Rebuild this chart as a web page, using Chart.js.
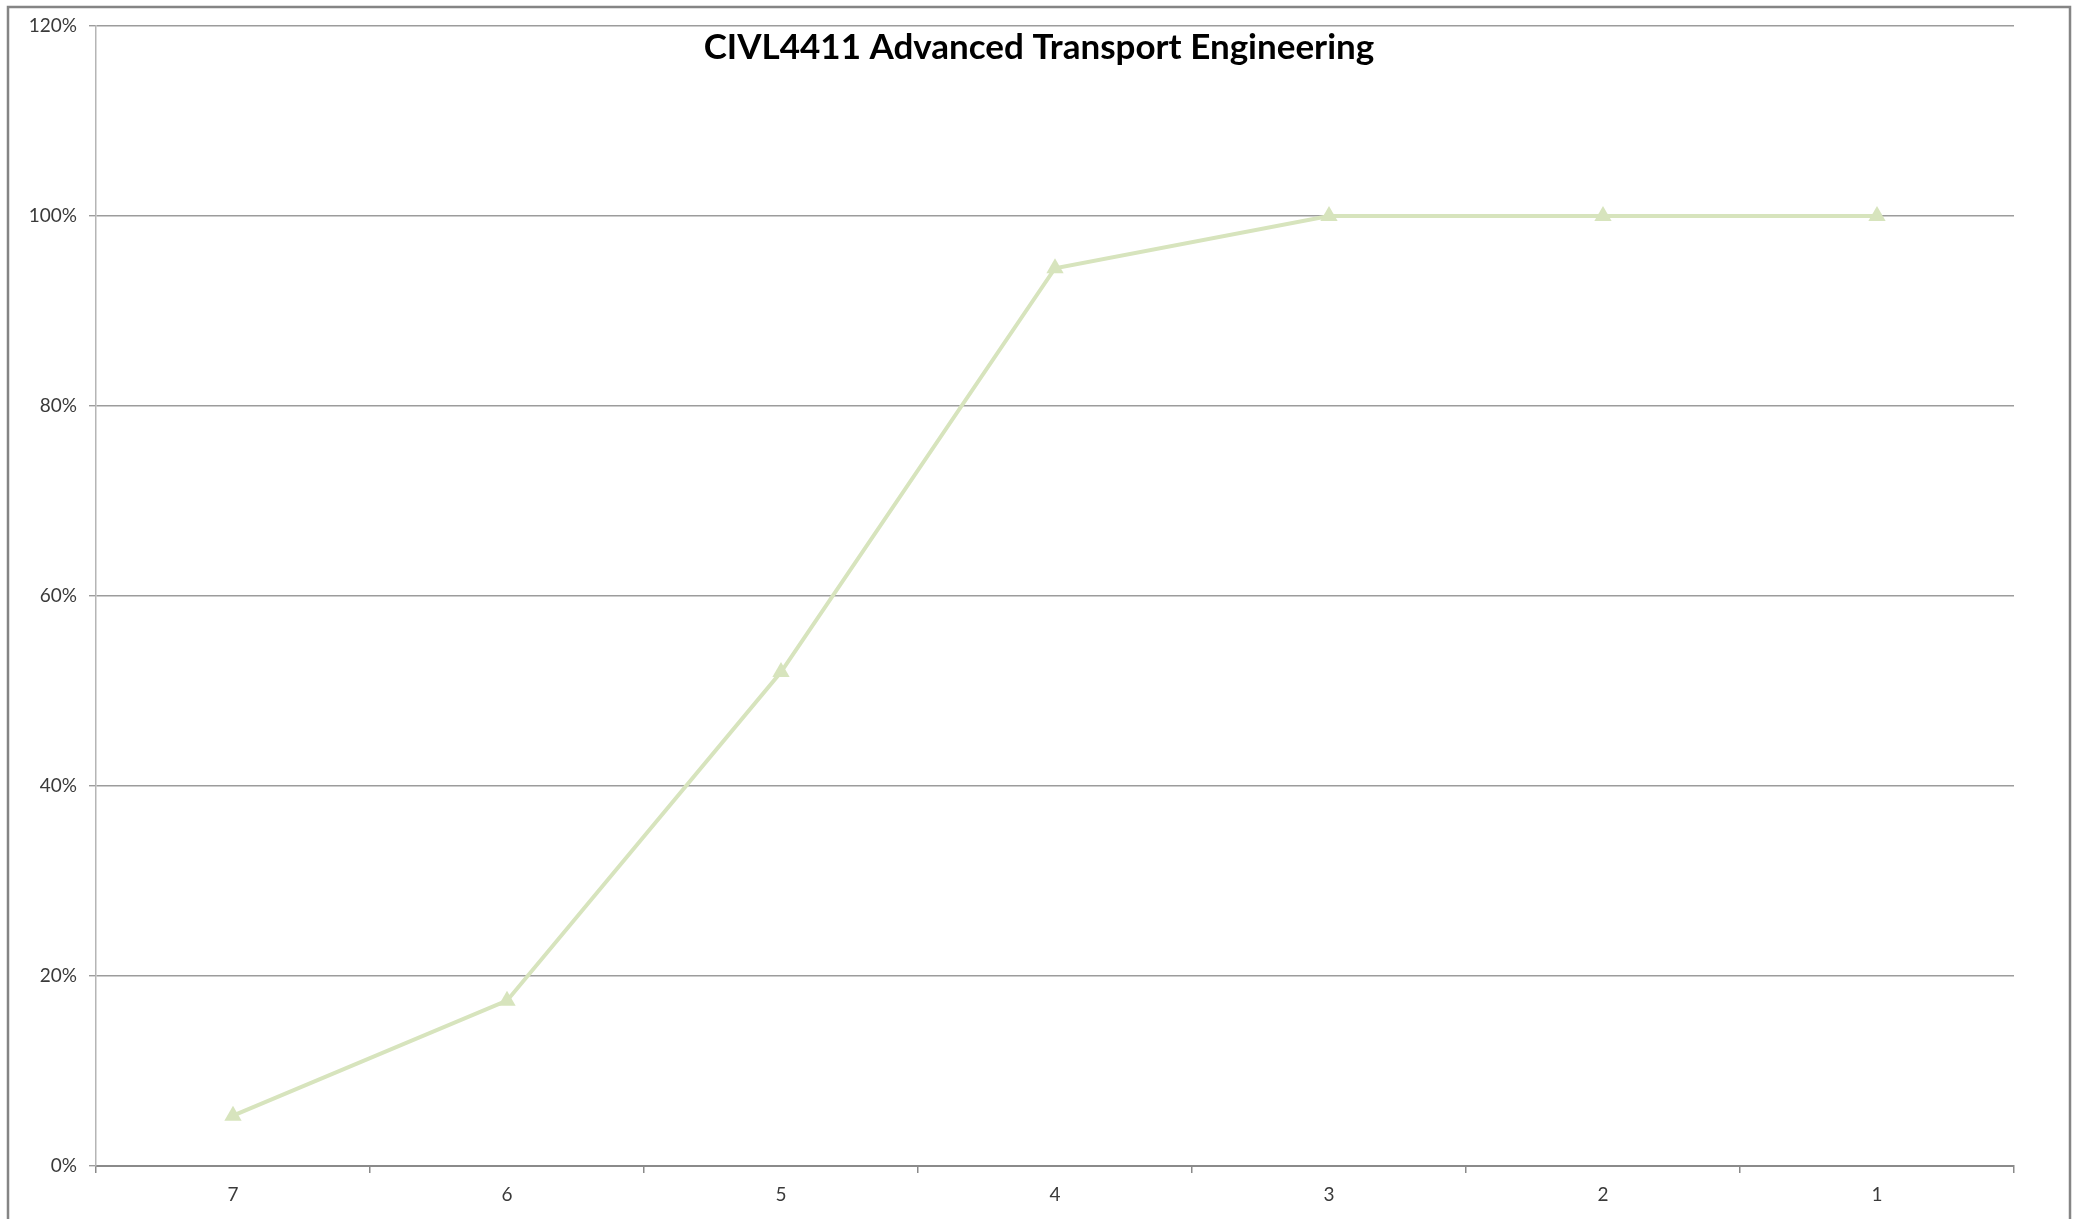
<!DOCTYPE html>
<html>
<head>
<meta charset="utf-8">
<script src="https://cdn.jsdelivr.net/npm/chart.js@4/dist/chart.umd.min.js"></script>
<style>
  html, body { margin: 0; padding: 0; background: #fff; }
  #wrap { width: 2078px; height: 1219px; }
</style>
</head>
<body>
<div id="wrap"><canvas id="chart" width="2078" height="1219"></canvas></div>
<script>
// chart values
const chartTitle = 'CIVL4411 Advanced Transport Engineering'
const categories = ['7', '6', '5', '4', '3', '2', '1']
const percentValues = [5.3, 17.4, 52.0, 94.5, 100, 100, 100]
const yTicks = [0, 20, 40, 60, 80, 100, 120]

const lineColor = '#d7e4bd'
const tickFont = { family: 'Lato, "Open Sans", sans-serif', size: 19 }

// excel style title sits inside the plot area, plus the outer frame
const frameAndTitle = {
    id: 'frameAndTitle',
    afterDraw(chart) {
        let ctx = chart.ctx
        ctx.save()
        ctx.strokeStyle = '#858585'
        ctx.lineWidth = 2.5
        ctx.strokeRect(8, 7, 2062, 1260)
        ctx.fillStyle = '#000'
        ctx.font = 'bold 35px Lato, "Open Sans", sans-serif'
        ctx.textAlign = 'center'
        ctx.textBaseline = 'middle'
        ctx.fillText(chartTitle, chart.width / 2, 48)
        ctx.restore()
    }
}

let chart = new Chart(document.getElementById('chart').getContext('2d'), {
    type: 'line',
    data: {
        labels: categories,
        datasets: [{
            data: percentValues,
            borderColor: lineColor,
            backgroundColor: lineColor,
            borderWidth: 4,
            pointStyle: 'triangle',
            pointRadius: 10,
            pointBorderWidth: 0,
            tension: 0
        }]
    },
    options: {
        responsive: false,
        animation: false,
        layout: {
            padding: { left: 8, top: 26, right: 64, bottom: 0 }
        },
        scales: {
            x: {
                type: 'category',
                offset: true,
                afterFit: s => { s.height = 53 },
                grid: {
                    offset: true,
                    drawOnChartArea: false,
                    drawTicks: true,
                    tickLength: 7,
                    color: '#8a8a8a',
                    lineWidth: 1.5
                },
                border: { color: '#8a8a8a', width: 2 },
                ticks: { color: '#3a3a3a', font: tickFont, padding: 10 }
            },
            y: {
                min: 0,
                max: 120,
                afterFit: s => { s.width = 88 },
                afterBuildTicks: s => { s.ticks = yTicks.map(v => ({ value: v })) },
                grid: {
                    color: '#9c9c9c',
                    lineWidth: 1.4,
                    tickLength: 7
                },
                border: { color: '#b5b5b5', width: 1.5 },
                ticks: {
                    color: '#3a3a3a',
                    font: tickFont,
                    padding: 12,
                    callback: v => v + '%'
                }
            }
        },
        plugins: {
            legend: { display: false },
            title: { display: false },
            tooltip: { enabled: false }
        }
    },
    plugins: [frameAndTitle]
})
</script>
</body>
</html>
